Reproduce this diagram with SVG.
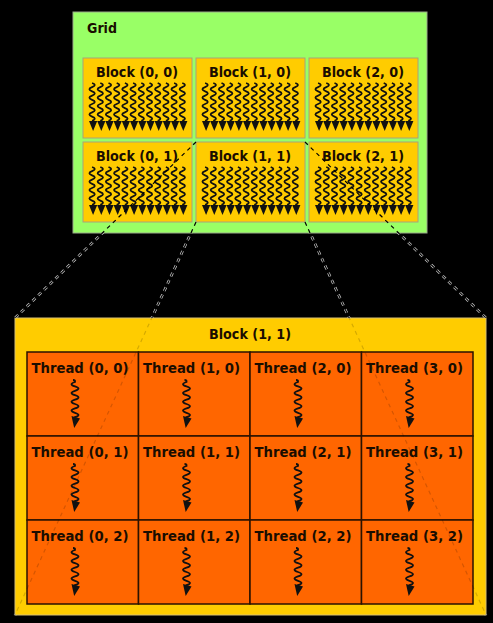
<svg xmlns="http://www.w3.org/2000/svg" xmlns:xlink="http://www.w3.org/1999/xlink" width="493" height="623" viewBox="0 0 493 623">
<style>
.lbl{font-family:"DejaVu Sans",Verdana,"Liberation Sans",sans-serif;font-weight:bold;font-size:14px;fill:#1a0d00;text-anchor:middle}
.grid{fill:#99ff66;stroke:#99aa88;stroke-width:1}
.blk{fill:#ffcc00;stroke:#aaa27a;stroke-width:1}
.big{fill:#ffcc00;stroke:#d8c070;stroke-width:1}
.thr{fill:#ff6600;stroke:#2a1200;stroke-width:1.5}
.wave{fill:none;stroke:#111;stroke-width:1.8}
.head{fill:#111}
.halo{fill:none;stroke:#cfcfcf;stroke-width:2.6;stroke-dasharray:4,4}
.core{fill:none;stroke:#000;stroke-width:1.2;stroke-dasharray:4,4}
</style>
<defs>
<g id="sq">
<path class="wave" d="M-1,0 q5.4,2.1 0,4.2 t0,4.2 t0,4.2 t0,4.2 t0,4.2 t0,4.2 t0,4.2 t0,4.2 t0,4.2"/>
<polygon class="head" points="-4.1,38 4.1,38 0,48"/>
</g>
<g id="blockThreads">
<use xlink:href="#sq" href="#sq" x="10.1" y="25"/>
<use xlink:href="#sq" href="#sq" x="18.3" y="25"/>
<use xlink:href="#sq" href="#sq" x="26.5" y="25"/>
<use xlink:href="#sq" href="#sq" x="34.7" y="25"/>
<use xlink:href="#sq" href="#sq" x="42.9" y="25"/>
<use xlink:href="#sq" href="#sq" x="51.1" y="25"/>
<use xlink:href="#sq" href="#sq" x="59.3" y="25"/>
<use xlink:href="#sq" href="#sq" x="67.5" y="25"/>
<use xlink:href="#sq" href="#sq" x="75.7" y="25"/>
<use xlink:href="#sq" href="#sq" x="83.9" y="25"/>
<use xlink:href="#sq" href="#sq" x="92.1" y="25"/>
<use xlink:href="#sq" href="#sq" x="100.3" y="25"/>
</g>
<g id="tsq">
<path class="wave" d="M-3,0 q2.5,0 2,2 q-7,2.2 0,4.4 t0,4.4 t0,4.4 t0,4.4 t0,4.4 t0,4.4 t0,4.4 t0,4.4 l0.5,3"/>
<polygon class="head" points="-4.5,36 4,38.5 -1.8,48"/>
</g>
<mask id="haloMask" maskUnits="userSpaceOnUse" x="0" y="0" width="493" height="623">
<rect x="0" y="0" width="493" height="623" fill="#fff"/>
<rect x="73" y="12" width="354" height="221" fill="#000"/>
<rect x="15" y="318" width="471" height="297" fill="#000"/>
</mask>
<mask id="coreMask" maskUnits="userSpaceOnUse" x="0" y="0" width="493" height="623">
<rect x="0" y="0" width="493" height="623" fill="#fff"/>
<rect x="15" y="318" width="471" height="297" fill="#2a2a2a"/>
</mask>
</defs>
<rect x="0" y="0" width="493" height="623" fill="#000"/>

<g id="grid">
<rect class="grid" x="73" y="12" width="354" height="221"/>
<text class="lbl" x="102" y="33" textLength="30" lengthAdjust="spacingAndGlyphs">Grid</text>
</g>
<g id="block-0-0"><rect class="blk" x="83" y="58" width="109" height="80"/><text class="lbl" x="137" y="77" textLength="82" lengthAdjust="spacingAndGlyphs">Block (0, 0)</text><use xlink:href="#blockThreads" href="#blockThreads" transform="translate(83,58)"/></g>
<g id="block-1-0"><rect class="blk" x="196" y="58" width="109" height="80"/><text class="lbl" x="250" y="77" textLength="82" lengthAdjust="spacingAndGlyphs">Block (1, 0)</text><use xlink:href="#blockThreads" href="#blockThreads" transform="translate(196,58)"/></g>
<g id="block-2-0"><rect class="blk" x="309" y="58" width="109" height="80"/><text class="lbl" x="363" y="77" textLength="82" lengthAdjust="spacingAndGlyphs">Block (2, 0)</text><use xlink:href="#blockThreads" href="#blockThreads" transform="translate(309,58)"/></g>
<g id="block-0-1"><rect class="blk" x="83" y="142" width="109" height="80"/><text class="lbl" x="137" y="161" textLength="82" lengthAdjust="spacingAndGlyphs">Block (0, 1)</text><use xlink:href="#blockThreads" href="#blockThreads" transform="translate(83,142)"/></g>
<g id="block-1-1"><rect class="blk" x="196" y="142" width="109" height="80"/><text class="lbl" x="250" y="161" textLength="82" lengthAdjust="spacingAndGlyphs">Block (1, 1)</text><use xlink:href="#blockThreads" href="#blockThreads" transform="translate(196,142)"/></g>
<g id="block-2-1"><rect class="blk" x="309" y="142" width="109" height="80"/><text class="lbl" x="363" y="161" textLength="82" lengthAdjust="spacingAndGlyphs">Block (2, 1)</text><use xlink:href="#blockThreads" href="#blockThreads" transform="translate(309,142)"/></g>

<g id="block-detail">
<rect class="big" x="15" y="318" width="471" height="297"/>
<text class="lbl" x="250" y="339" textLength="82" lengthAdjust="spacingAndGlyphs">Block (1, 1)</text>
</g>
<g id="thread-0-0"><rect class="thr" x="27" y="352" width="111.5" height="84"/><text class="lbl" x="80" y="373" textLength="97" lengthAdjust="spacingAndGlyphs">Thread (0, 0)</text><use xlink:href="#tsq" href="#tsq" transform="translate(76,380)"/></g>
<g id="thread-1-0"><rect class="thr" x="138.5" y="352" width="111.5" height="84"/><text class="lbl" x="191.5" y="373" textLength="97" lengthAdjust="spacingAndGlyphs">Thread (1, 0)</text><use xlink:href="#tsq" href="#tsq" transform="translate(187.5,380)"/></g>
<g id="thread-2-0"><rect class="thr" x="250" y="352" width="111.5" height="84"/><text class="lbl" x="303" y="373" textLength="97" lengthAdjust="spacingAndGlyphs">Thread (2, 0)</text><use xlink:href="#tsq" href="#tsq" transform="translate(299,380)"/></g>
<g id="thread-3-0"><rect class="thr" x="361.5" y="352" width="111.5" height="84"/><text class="lbl" x="414.5" y="373" textLength="97" lengthAdjust="spacingAndGlyphs">Thread (3, 0)</text><use xlink:href="#tsq" href="#tsq" transform="translate(410.5,380)"/></g>
<g id="thread-0-1"><rect class="thr" x="27" y="436" width="111.5" height="84"/><text class="lbl" x="80" y="457" textLength="97" lengthAdjust="spacingAndGlyphs">Thread (0, 1)</text><use xlink:href="#tsq" href="#tsq" transform="translate(76,464)"/></g>
<g id="thread-1-1"><rect class="thr" x="138.5" y="436" width="111.5" height="84"/><text class="lbl" x="191.5" y="457" textLength="97" lengthAdjust="spacingAndGlyphs">Thread (1, 1)</text><use xlink:href="#tsq" href="#tsq" transform="translate(187.5,464)"/></g>
<g id="thread-2-1"><rect class="thr" x="250" y="436" width="111.5" height="84"/><text class="lbl" x="303" y="457" textLength="97" lengthAdjust="spacingAndGlyphs">Thread (2, 1)</text><use xlink:href="#tsq" href="#tsq" transform="translate(299,464)"/></g>
<g id="thread-3-1"><rect class="thr" x="361.5" y="436" width="111.5" height="84"/><text class="lbl" x="414.5" y="457" textLength="97" lengthAdjust="spacingAndGlyphs">Thread (3, 1)</text><use xlink:href="#tsq" href="#tsq" transform="translate(410.5,464)"/></g>
<g id="thread-0-2"><rect class="thr" x="27" y="520" width="111.5" height="84"/><text class="lbl" x="80" y="541" textLength="97" lengthAdjust="spacingAndGlyphs">Thread (0, 2)</text><use xlink:href="#tsq" href="#tsq" transform="translate(76,548)"/></g>
<g id="thread-1-2"><rect class="thr" x="138.5" y="520" width="111.5" height="84"/><text class="lbl" x="191.5" y="541" textLength="97" lengthAdjust="spacingAndGlyphs">Thread (1, 2)</text><use xlink:href="#tsq" href="#tsq" transform="translate(187.5,548)"/></g>
<g id="thread-2-2"><rect class="thr" x="250" y="520" width="111.5" height="84"/><text class="lbl" x="303" y="541" textLength="97" lengthAdjust="spacingAndGlyphs">Thread (2, 2)</text><use xlink:href="#tsq" href="#tsq" transform="translate(299,548)"/></g>
<g id="thread-3-2"><rect class="thr" x="361.5" y="520" width="111.5" height="84"/><text class="lbl" x="414.5" y="541" textLength="97" lengthAdjust="spacingAndGlyphs">Thread (3, 2)</text><use xlink:href="#tsq" href="#tsq" transform="translate(410.5,548)"/></g>

<g id="connectors">
<g mask="url(#haloMask)">
<path class="halo" d="M196,142 L15,318"/>
<path class="halo" d="M196,222 L15,615"/>
<path class="halo" d="M305,222 L486,615"/>
<path class="halo" d="M305,142 L486,318"/>
</g>
<g mask="url(#coreMask)">
<path class="core" d="M196,142 L15,318"/>
<path class="core" d="M196,222 L15,615"/>
<path class="core" d="M305,222 L486,615"/>
<path class="core" d="M305,142 L486,318"/>
</g>
</g>
</svg>
